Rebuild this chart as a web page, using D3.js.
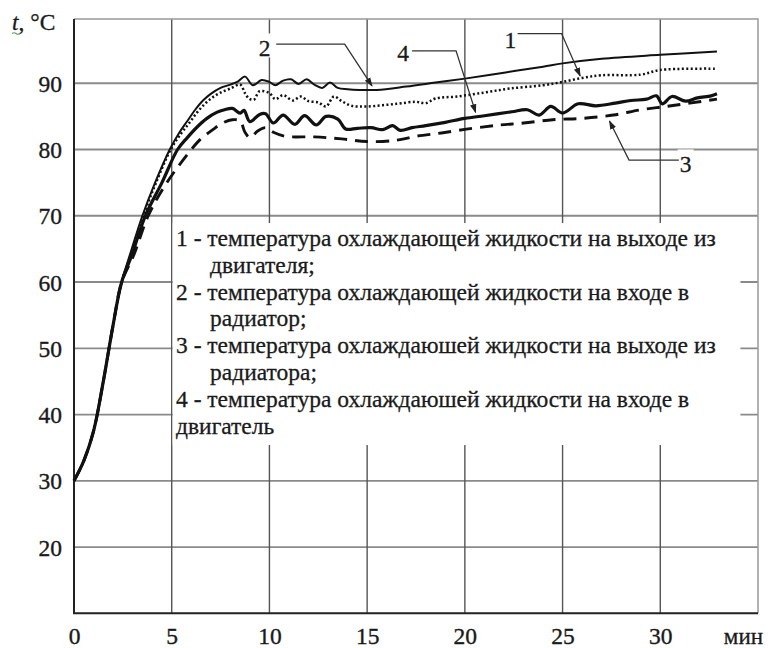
<!DOCTYPE html>
<meta charset="utf-8">
<html>
<body style="margin:0;background:#fff">
<svg width="772" height="648" font-family="'Liberation Serif', serif"></svg>
<script src="https://d3js.org/d3.v7.min.js"></script>
<script>
var serifFont = "'Liberation Serif', serif";
var ink = "#1a1a1a";

// ticks
var xTicks = [0, 5, 10, 15, 20, 25, 30];
var yTicks = [20, 30, 40, 50, 60, 70, 80, 90];

// 1 - outlet of engine (thin solid)
var outletEngine = [[0,30],[0.5,33],[1,37.5],[1.5,45],[2,53.5],[2.44,60],[2.9,64.5],[3.5,70],[4.15,75],[4.9,80],[5.4,82.6],[5.8,84.3],[6.2,86],[6.6,87.4],[7,88.4],[7.5,89.3],[8,89.8],[8.4,90.3],[8.75,91],[9.15,89.7],[9.6,90.5],[10,90.2],[10.3,89.7],[10.7,90.4],[11.1,90.6],[11.5,89.9],[11.9,90.6],[12.3,89.8],[12.7,89.3],[13.1,90.1],[13.5,89.3],[14,89.1],[14.6,89],[15.5,89],[17,89.5],[18.5,90.1],[20,90.7],[22,91.6],[24,92.5],[25,93],[27,93.7],[30,94.3],[32.9,94.8]];

// 2 - inlet of radiator (dotted)
var inletRadiator = [[0,30],[0.5,33],[1,37.5],[1.5,45],[2,53.5],[2.44,60],[2.95,64.5],[3.55,70],[4.2,75],[4.95,80],[5.5,82.5],[5.9,84],[6.3,85.6],[6.7,86.9],[7.1,87.9],[7.5,88.6],[8,89.2],[8.5,89.8],[8.75,88.5],[8.95,87.7],[9.2,87.5],[9.5,88.8],[10,88.5],[10.3,87.6],[10.7,88.2],[11.2,87.4],[11.6,88],[12,87.3],[12.5,87.1],[12.9,86.5],[13.3,88],[13.7,87.3],[14.2,86.6],[15,86.5],[16.5,86.9],[17.5,87.2],[18,87],[18.5,87.7],[19.6,88],[21,88.6],[22.3,89.2],[24,89.7],[25,90.2],[26,90.8],[27,91.2],[29,91.3],[30,92],[32.9,92.2]];

// 3 - outlet of radiator (dashed)
var outletRadiator = [[0,30],[0.5,33],[1,37.5],[1.5,45],[2,53.5],[2.44,60],[3.05,64],[3.8,70],[4.75,75],[6,80],[6.45,81.5],[7.1,83],[7.6,84],[8.1,84.5],[8.5,84.3],[8.75,82.6],[9,81.8],[9.4,82.8],[9.8,83.3],[10.2,82.6],[10.8,82],[12.3,81.9],[13.7,81.6],[15,81.2],[16.5,81.4],[17.5,82],[18.8,82.5],[20.4,83.2],[21.8,83.7],[23,84],[24.5,84.5],[26,84.7],[27.6,85.2],[29,86],[30.3,86.5],[31.5,87],[32.9,87.6]];

// 4 - inlet of engine (thick solid)
var inletEngine = [[0,30],[0.5,33],[1,37.5],[1.5,45],[2,53.5],[2.44,60],[2.95,64],[3.65,70],[4.5,75],[5.3,80],[5.8,81.8],[6.3,83.4],[6.8,84.7],[7.3,85.6],[7.7,86],[8.1,86.2],[8.5,85.5],[8.7,85.9],[9,84.2],[9.5,85.3],[9.8,85.4],[10.2,84],[10.7,85.2],[11.3,83.8],[11.8,85.1],[12.4,83.7],[12.9,85],[13.5,84.6],[13.9,83.1],[14.5,83.2],[15.2,83.3],[15.8,83],[16.3,83.6],[16.7,82.9],[17.3,83.3],[18,83.6],[19,84.1],[20,84.7],[21,85.1],[22.4,85.7],[23.2,86],[23.8,85.2],[24.4,86.5],[25,85.5],[25.8,86.9],[26.7,86.6],[27.7,87],[28.5,87.4],[29.3,87.6],[29.8,88.1],[30.1,86.9],[30.6,88],[31.3,87.3],[31.9,87.8],[32.6,88.1],[32.9,88.4]];

// legend lines: [text, indented]
var legendLines = [
  ["1 - температура охлаждающей жидкости на выходе из", false],
  ["двигателя;", true],
  ["2 - температура охлаждающей жидкости на входе в", false],
  ["радиатор;", true],
  ["3 - температура охлаждаюшей жидкости на выходе из", false],
  ["радиатора;", true],
  ["4 - температура охлаждаюшей жидкости на входе в", false],
  ["двигатель", false]
];

// callouts: label, label point, elbow start, elbow, arrow tip (time, temp)
var callouts = [
  {label: "2", at: [9.76, 95.4], from: [10.35, 95.9], elbow: [13.85, 95.9], tip: [15.25, 89.6]},
  {label: "4", at: [16.84, 94.6], from: [17.3, 94.9], elbow: [19.55, 94.9], tip: [20.55, 85.6]},
  {label: "1", at: [22.33, 96.6], from: [22.7, 97.5], elbow: [24.95, 97.5], tip: [25.9, 91.1]},
  {label: "3", at: [31.3, 77.9], from: [30.95, 78.4], elbow: [28.4, 78.4], tip: [27.4, 84.3]}
];

var svg = d3.select("svg");
var x = d3.scaleLinear().domain([0, 35]).range([74, 758]);
var y = d3.scaleLinear().domain([10, 100]).range([613.3, 17]);

// legend background area (axis units)
var legendBox = {t0: 5.05, t1: 34.1, v0: 35.4, v1: 68.9};

// grid
svg.append("g").selectAll("line").data(yTicks).join("line")
    .attr("stroke", "#8a8a8a").attr("stroke-width", 1.8)
    .attr("x1", x(0)).attr("x2", x(35))
    .attr("y1", d => y(d)).attr("y2", d => y(d));
svg.append("g").selectAll("line").data(xTicks.slice(1)).join("line")
    .attr("stroke", "#555").attr("stroke-width", 1.4)
    .attr("x1", d => x(d)).attr("x2", d => x(d))
    .attr("y1", y(10)).attr("y2", y(99.7));
// outer frame: top & right
svg.append("path").attr("stroke", "#999").attr("stroke-width", 1.5).attr("fill", "none")
    .attr("d", `M${x(0)},${y(99.7)}H${x(35)}V${y(10)}`);

// white legend box covering grid
svg.append("rect")
    .attr("x", x(legendBox.t0)).attr("y", y(legendBox.v1))
    .attr("width", x(legendBox.t1) - x(legendBox.t0))
    .attr("height", y(legendBox.v0) - y(legendBox.v1))
    .attr("fill", "#fff");

// axes lines
svg.append("path").attr("stroke", "#222").attr("stroke-width", 2).attr("fill", "none")
    .attr("d", `M${x(0)},${y(99.7)}V${y(10)}H${x(35)}`);

// tick labels via axes
var yAxis = svg.append("g").attr("transform", `translate(${x(0)},0)`)
    .call(d3.axisLeft(y).tickValues(yTicks).tickSize(0).tickPadding(12));
var xAxis = svg.append("g").attr("transform", `translate(0,${y(10)})`)
    .call(d3.axisBottom(x).tickValues(xTicks).tickSize(0).tickPadding(14));
[yAxis, xAxis].forEach(function(a) {
  a.attr("font-family", serifFont).attr("font-size", 23.5);
  a.select(".domain").remove();
  a.selectAll("text").attr("fill", ink).attr("stroke", ink).attr("stroke-width", 0.35);
});
yAxis.selectAll("text").attr("dy", "0.34em");
xAxis.selectAll("text").attr("dy", "0.71em");

// units
svg.append("text").attr("font-family", serifFont).attr("font-size", 23).attr("fill", ink)
    .attr("stroke", ink).attr("stroke-width", 0.3)
    .attr("x", x(35) + 5).attr("y", y(10) + 31)
    .attr("text-anchor", "end").text("мин");
var yUnit = svg.append("text").attr("font-family", serifFont).attr("font-size", 23.5).attr("fill", ink)
    .attr("stroke", ink).attr("stroke-width", 0.3)
    .attr("x", 12).attr("y", 30);
yUnit.append("tspan").attr("font-style", "italic").text("t");
yUnit.append("tspan").text(", °C");
svg.append("path").attr("d", "M12,33.5 q2,-1.5 4,0 t4,0").attr("stroke", "#5aa05a")
    .attr("stroke-width", 1.2).attr("fill", "none");

// curves
var line = d3.line().x(d => x(d[0])).y(d => y(d[1])).curve(d3.curveCatmullRom.alpha(0.5));
var series = [
  {data: outletRadiator, width: 2.9, dash: "13,8"},
  {data: inletEngine, width: 3.2, dash: null},
  {data: inletRadiator, width: 2.5, dash: "2,2.4"},
  {data: outletEngine, width: 2, dash: null}
];
svg.append("g").selectAll("path").data(series).join("path")
    .attr("d", d => line(d.data))
    .attr("fill", "none")
    .attr("stroke", "#111")
    .attr("stroke-width", d => d.width)
    .attr("stroke-dasharray", d => d.dash)
    .attr("stroke-linejoin", "round");

// legend text
var legend = svg.append("g").attr("font-family", serifFont).attr("font-size", 23.5)
    .attr("fill", ink).attr("stroke", ink).attr("stroke-width", 0.3);
legend.selectAll("text").data(legendLines).join("text")
    .attr("x", d => d[1] ? 210 : 176)
    .attr("y", (d, i) => 246 + i * 26.8)
    .text(d => d[0]);

// callouts
svg.append("defs").append("marker")
    .attr("id", "arrow").attr("viewBox", "0 0 10 10")
    .attr("refX", 9).attr("refY", 5)
    .attr("markerWidth", 7).attr("markerHeight", 7)
    .attr("orient", "auto-start-reverse")
  .append("path").attr("d", "M0,1.5L10,5L0,8.5Z").attr("fill", "#222");

var co = svg.append("g").selectAll("g").data(callouts).join("g");
co.append("rect")
    .attr("x", d => x(d.at[0]) - 8).attr("y", d => y(d.at[1]) - 14)
    .attr("width", 16).attr("height", 24).attr("fill", "#fff");
co.append("path")
    .attr("stroke", "#333").attr("stroke-width", 1.3).attr("fill", "none")
    .attr("d", d => `M${x(d.from[0])},${y(d.from[1])}L${x(d.elbow[0])},${y(d.elbow[1])}L${x(d.tip[0])},${y(d.tip[1])}`)
    .attr("marker-end", "url(#arrow)");
co.append("text").attr("font-family", serifFont).attr("font-size", 23.5).attr("fill", ink)
    .attr("stroke", ink).attr("stroke-width", 0.3)
    .attr("x", d => x(d.at[0])).attr("y", d => y(d.at[1]))
    .attr("text-anchor", "middle").attr("dy", "0.35em")
    .text(d => d.label);
</script>
</body>
</html>
